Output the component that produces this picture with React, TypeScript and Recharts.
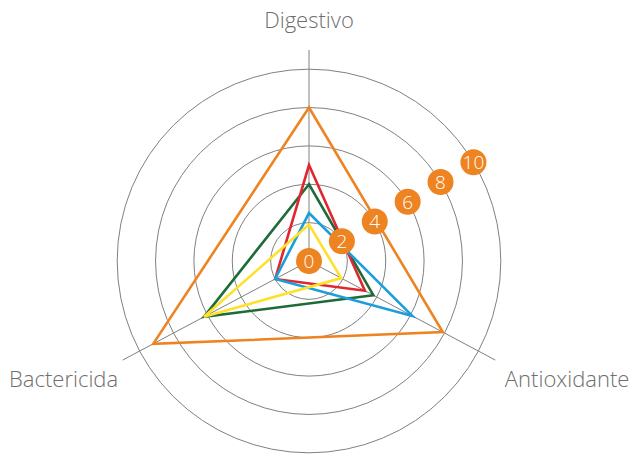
import { RadarChart, Radar, PolarGrid, PolarAngleAxis, PolarRadiusAxis } from "recharts";

// axes listed left -> top -> right so Digestivo sits in the middle
const properties = ["Bactericida", "Digestivo", "Antioxidante"];

const orangeValues = [9.2, 8, 7.9];
const redValues = [2, 5, 3.3];
const greenValues = [6.2, 4, 3.8];
const blueValues = [2, 2.5, 6.1];
const yellowValues = [6.2, 1.9, 1.9];

const radiusTicks = [0, 2, 4, 6, 8, 10];

const series = [
  { key: "green", color: "#1d6b38", values: greenValues },
  { key: "red", color: "#e0262f", values: redValues },
  { key: "blue", color: "#1a9fdc", values: blueValues },
  { key: "yellow", color: "#ffe02a", values: yellowValues },
  { key: "orange", color: "#ee8322", values: orangeValues },
];

const data = properties.map((name, i) => {
  const row: any = { name };
  series.forEach((s) => (row[s.key] = s.values[i]));
  return row;
});

const CX = 309;
const CY = 261;

const AngleTick = ({ x, y, payload, textAnchor }: any) => {
  const above = y < CY;
  return (
    <text
      x={x + (above ? 0 : 2.5)}
      y={y + (above ? -14 : 23)}
      textAnchor={textAnchor}
      fill="#6e6e6e"
      fontSize={22}
      fontWeight={300}
      fontFamily="'Open Sans', sans-serif"
    >
      {payload.value}
    </text>
  );
};

const Badge = ({ x, y, payload }: any) => (
  <g>
    <circle cx={x} cy={y} r={13} fill="#ee8322" />
    <text
      x={x}
      y={y}
      dy="0.36em"
      textAnchor="middle"
      fill="#ffffff"
      fontSize={19}
      fontWeight={300}
      fontFamily="'Open Sans', sans-serif"
    >
      {payload.value}
    </text>
  </g>
);

export default function App() {
  return (
    <div style={{ position: "absolute", left: 0, top: 0, width: 636, height: 456, background: "#fff" }}>
      <RadarChart
        width={636}
        height={456}
        data={data}
        cx={CX}
        cy={CY}
        outerRadius={211}
        startAngle={208}
        endAngle={-146}
        margin={{ top: 0, right: 0, bottom: 0, left: 0 }}
      >
        <PolarGrid gridType="circle" stroke="#808080" strokeWidth={1} />
        <PolarAngleAxis dataKey="name" tick={<AngleTick />} axisLine={false} tickLine={false} />
        {series.map((s) => (
          <Radar
            key={s.key}
            dataKey={s.key}
            stroke={s.color}
            strokeWidth={2.6}
            fill="none"
            fillOpacity={0}
            dot={false}
            isAnimationActive={false}
          />
        ))}
        <PolarRadiusAxis
          angle={31}
          type="number"
          domain={[0, 10.8]}
          ticks={radiusTicks}
          tick={<Badge />}
          axisLine={false}
        />
      </RadarChart>
    </div>
  );
}
